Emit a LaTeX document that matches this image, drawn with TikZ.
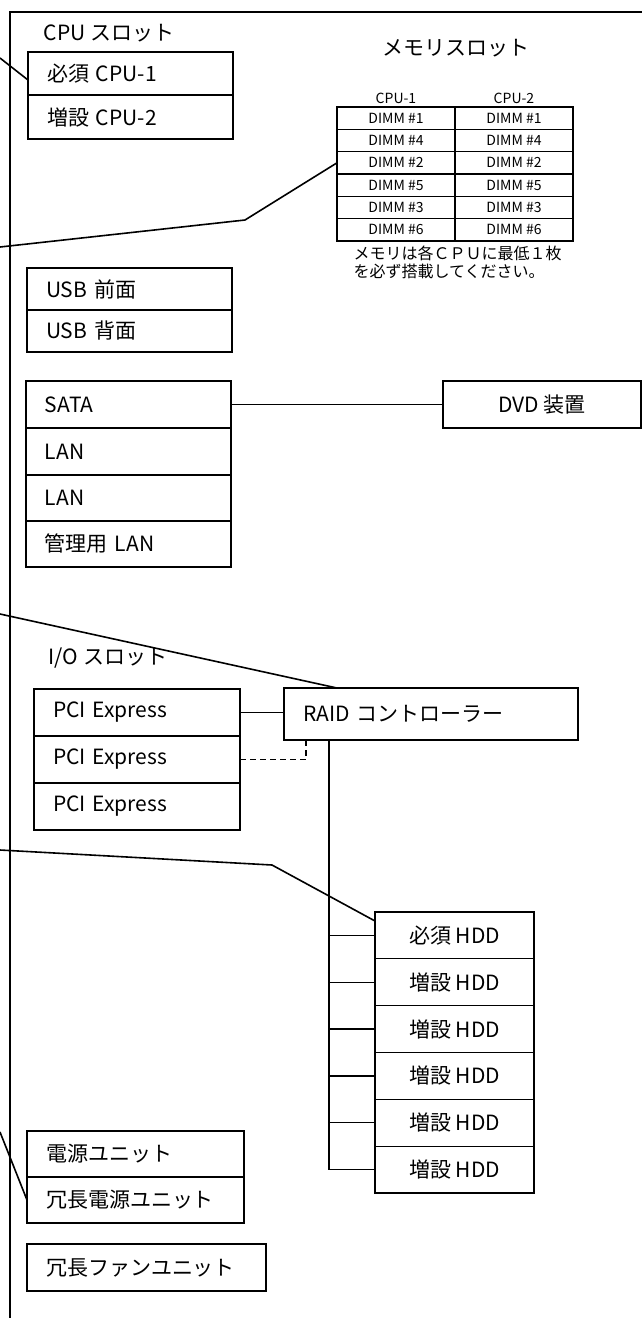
\documentclass[tikz,border=0pt]{standalone}
\usepackage{fontspec}
\setmainfont{Noto Sans CJK JP}
\tikzset{
  leftbox/.style 2 args={draw, rectangle, anchor=north west, outer sep=0pt, inner xsep=19pt, inner ysep=0pt, align=left, text width=#1, minimum height=#2},
  cbox/.style={draw, rectangle, anchor=north west, outer sep=0pt, inner sep=0pt},
  dimm/.style={draw, line width=1.6pt, rectangle, anchor=north west, outer sep=0pt, inner sep=0pt, minimum width=118pt, minimum height=22.33pt, font=\fontsize{14}{15}\selectfont},
  lbl/.style={anchor=west, inner sep=0pt},
  lead/.style={line width=1.6pt}
}
\begin{document}
\begin{tikzpicture}[x=1pt, y=-1pt, line width=1.25pt, font=\fontsize{21}{24}\selectfont]
\useasboundingbox (0,0) rectangle (642,1318);
\draw[line width=2.8pt] (642,12) -- (10,12) -- (10,1318);

% CPU slots
\node(CPUlbl)[lbl] at (43,33) {CPU スロット};
\node(CPU1)[leftbox={167pt}{43pt}] at (28,52) {必須 CPU-1};
\node(CPU2)[leftbox={167pt}{44pt}] at (28,95) {増設 CPU-2};

% memory slots
\node(MemLbl) at (456,48) {メモリスロット};
\node(H1)[font=\fontsize{14}{15}\selectfont] at (396,98) {CPU-1};
\node(H2)[font=\fontsize{14}{15}\selectfont] at (514,98) {CPU-2};
\foreach \d [count=\i] in {1,4,2,5,3,6} {
  \node(Ma\i)[dimm] at (337,{107+(\i-1)*22.33}) {DIMM \#\d};
  \node(Mb\i)[dimm] at (455,{107+(\i-1)*22.33}) {DIMM \#\d};
}
\node(Note)[anchor=north west, inner sep=0pt, align=left, font=\fontsize{16}{18}\selectfont] at (353,245) {メモリは各ＣＰＵに最低１枚\\を必ず搭載してください。};

% USB
\node(USBf)[leftbox={167pt}{42pt}] at (27,268) {USB 前面};
\node(USBr)[leftbox={167pt}{42pt}] at (27,310) {USB 背面};

% SATA / LAN
\node(SATA)[leftbox={167pt}{47pt}] at (26,381) {SATA};
\node(LANa)[leftbox={167pt}{47pt}] at (26,428) {LAN};
\node(LANb)[leftbox={167pt}{46pt}] at (26,475) {LAN};
\node(MLAN)[leftbox={167pt}{46pt}, line width=1.8pt] at (26,521) {管理用 LAN};
\node(DVD)[cbox, minimum width=198pt, minimum height=47pt] at (443,381) {DVD 装置};
\draw (SATA.east) -- (DVD.west);

% I/O slots
\node(IOlbl)[lbl] at (48,658) {I/O スロット};
\node(PCIa)[leftbox={168pt}{47pt}] at (34,689) {PCI Express};
\node(PCIb)[leftbox={168pt}{47pt}] at (34,736) {PCI Express};
\node(PCIc)[leftbox={168pt}{47pt}] at (34,783) {PCI Express};
\node(RAID)[leftbox={256pt}{52pt}] at (284,688) {RAID コントローラー};
\draw (PCIa.east) -- (PCIa.east -| RAID.west);
\draw[dash pattern=on 6pt off 4pt] (PCIb.east) -| ([xshift=22pt]RAID.south west);

% HDD
\foreach \t [count=\i] in {必須,増設,増設,増設,増設,増設}
  \node(HDD\i)[cbox, minimum width=159pt, minimum height=46.83pt] at (375,{912+(\i-1)*46.83}) {\t{} HDD};
\coordinate (BusTop) at ([xshift=45pt]RAID.south west);
\draw (BusTop) |- (HDD6.west);
\foreach \i in {1,...,5}
  \draw (HDD\i.west) -- (HDD\i.west -| BusTop);

% power / fan
\node(PSU1)[leftbox={179pt}{46pt}] at (27,1131) {電源ユニット};
\node(PSU2)[leftbox={179pt}{46pt}] at (27,1177) {冗長電源ユニット};
\node(Fan)[leftbox={201pt}{47pt}] at (27,1244) {冗長ファンユニット};

% leader lines
\coordinate (inCPU) at (0,58);
\draw[lead] (inCPU) -- ([yshift=15pt]CPU1.south west);
\coordinate (inMem) at (0,247);
\coordinate (bendMem) at (245,220);
\draw[lead] (inMem) -- (bendMem) -- (Ma3.west);
\coordinate (inRAID) at (0,614);
\draw[lead] (inRAID) -- ([xshift=53pt]RAID.north west);
\coordinate (inHDD) at (0,850);
\coordinate (bendHDD) at (272,865);
\draw[lead] (inHDD) -- (bendHDD) -- ([yshift=-9pt]HDD1.north west);
\coordinate (inPSU) at (0,1132);
\draw[lead] (inPSU) -- (PSU2.west);
\end{tikzpicture}
\end{document}
